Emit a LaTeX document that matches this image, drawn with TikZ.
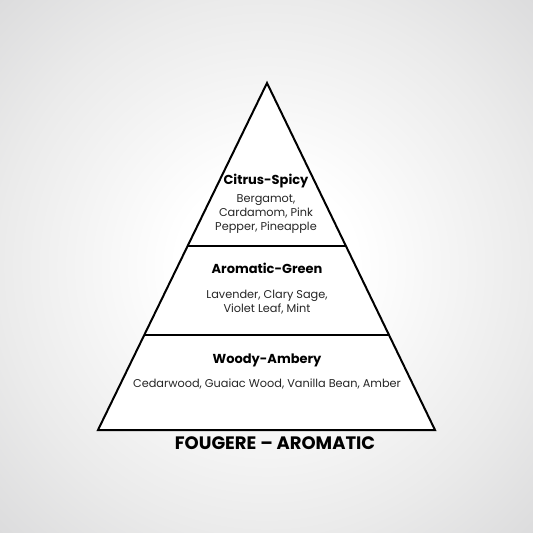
\documentclass[tikz,border=0pt]{standalone}
\usepackage{fontspec}
\setmainfont{Poppins}
\usetikzlibrary{calc}
\definecolor{bgmid}{HTML}{EBEBEB}
\definecolor{bgcorner}{HTML}{DCDCDD}
\pgfdeclareradialshading{bgshade}{\pgfpoint{0bp}{0bp}}{color(0bp)=(white); color(90bp)=(white); color(266bp)=(bgmid); color(377bp)=(bgcorner); color(390bp)=(bgcorner)}
\tikzset{
  heading/.style={font=\bfseries\fontsize{13}{16}\selectfont, inner sep=0pt, align=center},
  body/.style={font=\fontsize{11.3}{14}\selectfont, inner sep=0pt, align=center, text=black!85},
  titletext/.style={font=\bfseries\fontsize{18}{20}\selectfont, inner sep=0pt},
  outline/.style={draw=black, line width=2pt, fill=white, line join=miter},
  divider/.style={draw=black, line width=1.6pt}
}
\begin{document}
\begin{tikzpicture}[x=1pt,y=-1pt]
\useasboundingbox (0,0) rectangle (533,533);
\begin{scope}
\clip (0,0) rectangle (533,533);
\node[inner sep=0pt] (bg) at (266.5,266.5) {\pgfuseshading{bgshade}};
\end{scope}
\coordinate (apex) at (267,83);
\coordinate (bl) at (98,430);
\coordinate (br) at (435,430);
\draw[outline] (apex) -- (br) -- (bl) -- cycle;
\coordinate (l1) at ($(apex)!0.4697!(bl)$);
\coordinate (r1) at ($(apex)!0.4697!(br)$);
\coordinate (l2) at ($(apex)!0.7262!(bl)$);
\coordinate (r2) at ($(apex)!0.7262!(br)$);
\draw[divider] (l1) -- (r1);
\draw[divider] (l2) -- (r2);
\node[heading] (h1) at (266,181) {Citrus-Spicy};
\node[body] (b1) at (266,214) {Bergamot,\\Cardamom, Pink\\Pepper, Pineapple};
\node[heading] (h2) at (267,268) {Aromatic-Green};
\node[body] (b2) at (267,302) {Lavender, Clary Sage,\\Violet Leaf, Mint};
\node[heading] (h3) at (267,360) {Woody-Ambery};
\node[body] (b3) at (267,384) {Cedarwood, Guaiac Wood, Vanilla Bean, Amber};
\node[titletext] (t) at (275,443) {FOUGERE – AROMATIC};
\end{tikzpicture}
\end{document}
